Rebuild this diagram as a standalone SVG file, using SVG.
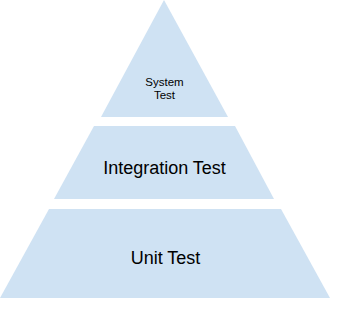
<svg xmlns="http://www.w3.org/2000/svg" width="351" height="314" viewBox="0 0 351 314">
<style>
.shape{fill:#cfe2f3;stroke:none}
.lbl{font-family:"Liberation Sans",Arial,sans-serif;fill:#000;text-anchor:middle}
</style>
<rect width="351" height="314" fill="#fff"/>
<g id="system-test">
<polygon class="shape" points="164,0 228,117 101,117"/>
<text class="lbl" x="164.5" y="85.5" font-size="11.5">System</text>
<text class="lbl" x="164.5" y="98.5" font-size="11.5">Test</text>
</g>
<g id="integration-test">
<polygon class="shape" points="94,126 235,126 274,199 54,199"/>
<text class="lbl" x="164.5" y="174" font-size="18">Integration Test</text>
</g>
<g id="unit-test">
<polygon class="shape" points="49,209 281,209 330,298 0,298"/>
<text class="lbl" x="165.5" y="264" font-size="18">Unit Test</text>
</g>
<g id="connectors"/>
</svg>
